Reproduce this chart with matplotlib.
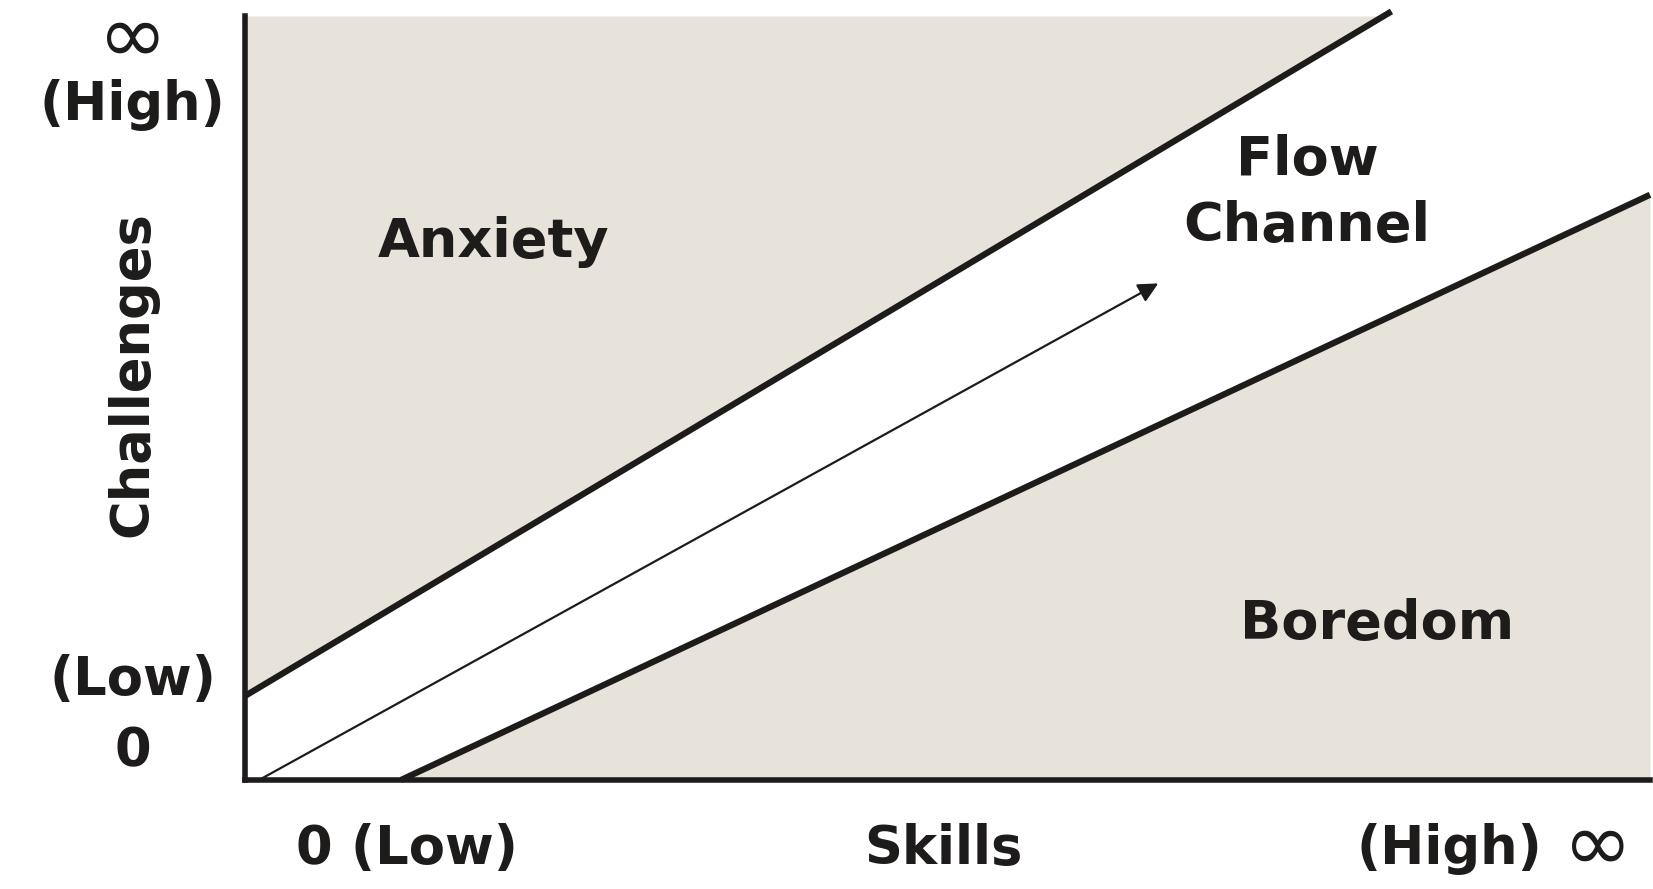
import numpy as np
import matplotlib.pyplot as plt

# conceptual scale: skills and challenges both 0..100
skills_lim = [0, 100]
chall_lim = [0, 100]

# boundary lines of the flow channel (skills, challenges)
upper_x = [0, 81.6]
upper_y = [11, 100.6]
lower_x = [11.1, 100]
lower_y = [0, 76.6]

# growth arrow inside the channel
arrow_start = (1, 0)
arrow_end = (65, 65)

regions = ['Anxiety', 'Flow\nChannel', 'Boredom']
region_pos = [(17.7, 70.4), (75.6, 76.8), (80.6, 20.4)]

ylabels = ['(High)', '(Low)', '0']
ylabel_pos = [88.4, 13.1, 3.7]
xlabels = ['0 (Low)', 'Skills', '(High)']
xlabel_pos = [11.5, 49.7, 85.7]
# infinity signs at the ends of both axes
inf_pos = [(-8.0, 97.0), (96.3, -8.8)]

fill_col = '#e7e3da'
ink = '#1e1b1b'

plt.rcParams['font.family'] = ['DejaVu Sans']

fig = plt.figure(figsize=(16.53, 8.89), dpi=100)
ax = fig.add_axes([245/1653, 109/889, 1405/1653, 764/889])
ax.set_xlim(skills_lim)
ax.set_ylim(chall_lim)

# anxiety region (above upper line)
ax.fill_between(np.array(upper_x), np.array(upper_y), chall_lim[1], color=fill_col, lw=0)
# boredom region (below lower line)
ax.fill_between(np.array(lower_x), 0, np.array(lower_y), color=fill_col, lw=0)

ax.plot(upper_x, upper_y, color=ink, lw=4.5, clip_on=False, solid_capstyle='butt')
ax.plot(lower_x, lower_y, color=ink, lw=4.5, clip_on=False, solid_capstyle='butt')

ax.annotate('', xy=arrow_end, xytext=arrow_start,
            arrowprops=dict(arrowstyle='-|>', color=ink, lw=1.6, mutation_scale=30,
                            shrinkA=0, shrinkB=0))

for spine in ['top', 'right']:
    ax.spines[spine].set_visible(False)
for spine in ['left', 'bottom']:
    ax.spines[spine].set_linewidth(4)
    ax.spines[spine].set_color(ink)
ax.set_xticks([])
ax.set_yticks([])
ax.patch.set_alpha(0)

for txt, (x, y) in zip(regions, region_pos):
    ax.text(x, y, txt, fontsize=39, fontweight='bold', color=ink,
            ha='center', va='center', linespacing=1.35)

for txt, y in zip(ylabels, ylabel_pos):
    ax.text(-8.0, y, txt, fontsize=38, fontweight='bold', color=ink,
            ha='center', va='center', clip_on=False)
ax.text(-8.0, 53.1, 'Challenges', fontsize=38, fontweight='bold', color=ink,
        ha='center', va='center', rotation=90, clip_on=False)

for txt, x in zip(xlabels, xlabel_pos):
    ax.text(x, -9.0, txt, fontsize=38, fontweight='bold', color=ink,
            ha='center', va='center', clip_on=False)

for x, y in inf_pos:
    ax.text(x, y, '\u221e', fontsize=60, fontweight='normal', color=ink,
            ha='center', va='center', clip_on=False)

fig.savefig('out.png', dpi=100)
